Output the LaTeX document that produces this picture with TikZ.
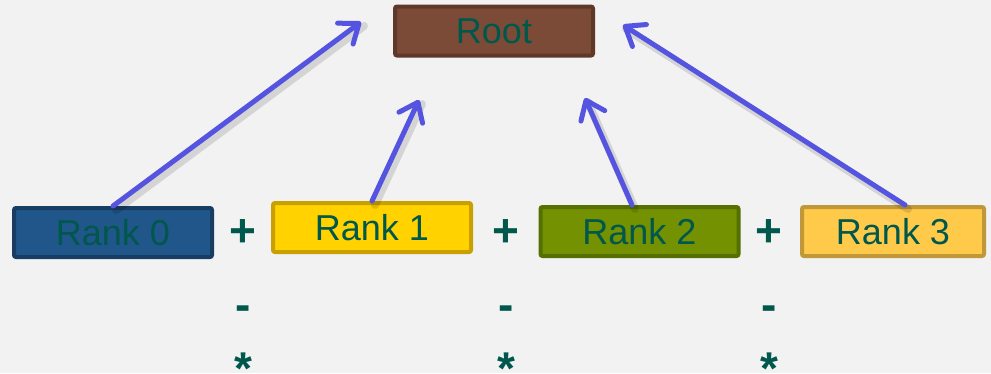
\documentclass[tikz,border=0pt]{standalone}
\usepackage{fontspec}
\setmainfont{Liberation Sans}
\usetikzlibrary{arrows.meta}
\definecolor{bg}{HTML}{F2F2F2}
\definecolor{txt}{HTML}{00574B}
\definecolor{arrowc}{RGB}{84,84,224}
\definecolor{rootfill}{HTML}{7B4B37}
\definecolor{rootline}{HTML}{5E3828}
\definecolor{r0fill}{HTML}{21568A}
\definecolor{r0line}{HTML}{173D63}
\definecolor{r1fill}{HTML}{FFD200}
\definecolor{r1line}{HTML}{C8A000}
\definecolor{r2fill}{HTML}{739100}
\definecolor{r2line}{HTML}{557000}
\definecolor{r3fill}{HTML}{FFCA4A}
\definecolor{r3line}{HTML}{C0983A}
\tikzset{
  procbox/.style={draw, line width=4pt, rounded corners=2pt, inner sep=0pt,
    minimum width=198pt, minimum height=49pt, text=txt,
    font=\fontsize{36}{40}\selectfont},
  opsign/.style={inner sep=0pt, anchor=base, text=txt,
    font=\fontsize{46}{50}\selectfont\bfseries},
  link/.style={draw=arrowc, line width=5pt, line cap=round,
    -{Straight Barb[length=17pt,width=26pt,round]}},
  linkshadow/.style={draw=black, opacity=0.12, line width=8pt, line cap=round}
}
\begin{document}
\begin{tikzpicture}[x=1pt,y=-1pt]
  \fill[bg] (0,0) rectangle (991,373);
  \useasboundingbox (0,0) rectangle (991,373);

  % boxes
  \node[procbox, fill=rootfill, draw=rootline] (root) at (494,31) {Root};
  \node[procbox, fill=r0fill, draw=r0line] (r0) at (113,232.5) {Rank 0};
  \node[procbox, fill=r1fill, draw=r1line] (r1) at (372,227.5) {Rank 1};
  \node[procbox, fill=r2fill, draw=r2line] (r2) at (639.5,231.5) {Rank 2};
  \node[procbox, fill=r3fill, draw=r3line, minimum width=182pt] (r3) at (893,231.5) {Rank 3};

  % operators between the ranks
  \foreach \x/\n in {243/a,506/b,769/c}{
    \node[opsign] (plus\n) at (\x,246) {+};
    \node[opsign] (minus\n) at (\x,320) {-};
    \node[opsign] (star\n) at (\x,384) {*};
  }

  % arrow targets around the root
  \coordinate (t0) at (361,22);
  \coordinate (t1) at (419,100);
  \coordinate (t2) at (585,98);
  \coordinate (t3) at (623,25);
  \coordinate (s2) at (632,205);
  \coordinate (s3) at (905,205);

  % shadows of the arrows
  \draw[linkshadow] ([shift={(3,4)}]r0.north) -- ([shift={(3,4)}]t0);
  \draw[linkshadow] ([shift={(3,4)}]r1.north) -- ([shift={(3,4)}]t1);
  \draw[linkshadow] ([shift={(3,4)}]s2) -- ([shift={(3,4)}]t2);
  \draw[linkshadow] ([shift={(3,4)}]s3) -- ([shift={(3,4)}]t3);

  % arrows
  \draw[link] (r0.north) -- (t0);
  \draw[link] (r1.north) -- (t1);
  \draw[link] (s2) -- (t2);
  \draw[link] (s3) -- (t3);
\end{tikzpicture}
\end{document}
